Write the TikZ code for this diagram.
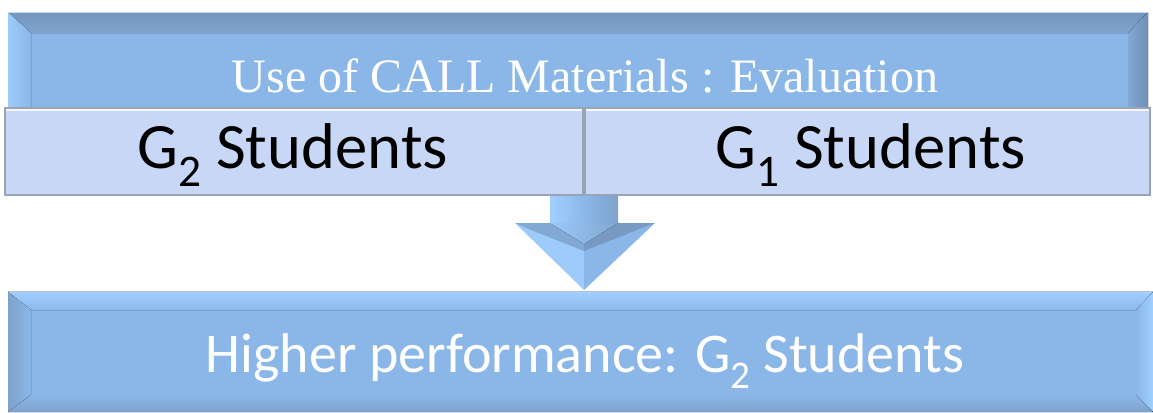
\documentclass[tikz,border=0pt]{standalone}
\usepackage{fontspec}
\usetikzlibrary{calc}
\setmainfont{Liberation Serif}
\newfontfamily\calibrifont{Carlito}
\newcommand\lowdigit[1]{\raisebox{-0.29em}{\fontsize{0.7\fontdimen6\font}{1em}\selectfont #1}}
\definecolor{boxblue}{HTML}{8BB7E8}
\definecolor{bevdark}{HTML}{7EA2CC}
\definecolor{bevlight}{HTML}{A0D0FF}
\definecolor{rowfill}{HTML}{C9D7F6}
\definecolor{rowline}{HTML}{9AA4B8}
\tikzset{
  titletext/.style={text=white,font=\fontsize{36}{40}\selectfont,anchor=base,inner sep=0pt},
  rowtext/.style={text=black,font=\calibrifont\fontsize{48.5}{52}\selectfont,anchor=base,inner sep=0pt},
  resulttext/.style={text=white,font=\calibrifont\fontsize{42}{46}\selectfont,anchor=base,inner sep=0pt},
  rowbox/.style={fill=rowfill,draw=rowline,line width=0.9pt},
}
\begin{document}
\begin{tikzpicture}[x=0.75pt,y=-0.75pt]
\useasboundingbox (0,0) rectangle (1153,412);

% upper bevelled panel
\fill[boxblue] (8,12) rectangle (1148,108);
\fill[top color=bevdark!92!black,bottom color=bevdark!90!boxblue] (8,12) -- (1148,12) -- (1128,33) -- (31,33) -- cycle;
\fill[left color=bevlight!80!boxblue,right color=boxblue] (8,12) -- (31,33) -- (31,108) -- (8,108) -- cycle;
\fill[left color=bevdark!70!boxblue,right color=bevdark!88!black] (1128,33) -- (1148,12) -- (1148,108) -- (1128,108) -- cycle;
\draw[bevlight!70!white,line width=1pt] (8,12.5) -- (1148,12.5);
\node[titletext] (title) at (585,92) {Use of CALL Materials : Evaluation};

% the two group cells
\path[rowbox] (5,108) rectangle (583,195);
\path[rowbox] (585,108) rectangle (1150,195);
\draw[white!80!rowfill,line width=1.2pt] (6,110) -- (582,110) (586,110) -- (1149,110);
\node[rowtext] (g2) at (293,168) {G\lowdigit{2} Students};
\node[rowtext] (g1) at (871,168) {G\lowdigit{1} Students};

% lower bevelled panel
\fill[boxblue] (8,292) rectangle (1153,412);
\fill[top color=bevlight,bottom color=boxblue] (8,292) -- (1153,292) -- (1136,310) -- (31,310) -- cycle;
\fill[left color=bevdark,right color=boxblue] (8,292) -- (31,310) -- (31,395) -- (8,412) -- cycle;
\fill[left color=boxblue,right color=bevlight] (1136,310) -- (1153,292) -- (1153,412) -- (1136,395) -- cycle;
\fill[top color=boxblue,bottom color=bevdark] (31,395) -- (1136,395) -- (1153,412) -- (8,412) -- cycle;
\draw[rowline!70!white,line width=1pt] (8,291.5) -- (1153,291.5);
\node[resulttext] (result) at (585,372) {Higher performance: G\lowdigit{2} Students};

% block arrow from the group cells down to the result panel
\coordinate (arrtop) at (584,196);
\coordinate (arrtip) at (584,290);
\coordinate (sl) at ($(arrtop)+(-34,27)$);
\coordinate (sr) at ($(arrtop)+(34,27)$);
\coordinate (wl) at ($(arrtop)+(-69,27)$);
\coordinate (wr) at ($(arrtop)+(71,27)$);
\coordinate (mid) at ($(arrtop)+(0,27)$);
\coordinate (cu) at ($(arrtop)+(0,48)$);
\coordinate (cl) at ($(arrtop)+(0,55)$);
\coordinate (bl) at ($(arrtop)+(-58,32)$);
\coordinate (br) at ($(arrtop)+(58,32)$);
\shade[left color=bevlight,right color=bevdark,middle color=boxblue] ($(arrtop)+(-34,0)$) rectangle (sr);
\fill[bevlight!85!boxblue] (wl) -- (mid) -- (arrtip) -- cycle;
\fill[boxblue] (wr) -- (mid) -- (arrtip) -- cycle;
\fill[bevdark!70!boxblue] (wl) -- (sl) -- (cu) -- (cl) -- (bl) -- cycle;
\fill[bevdark!95!black] (wr) -- (sr) -- (cu) -- (cl) -- (br) -- cycle;
\fill[left color=bevlight!70!boxblue,right color=bevdark!80!boxblue] (sl) -- (sr) -- (cu) -- cycle;
\end{tikzpicture}
\end{document}
